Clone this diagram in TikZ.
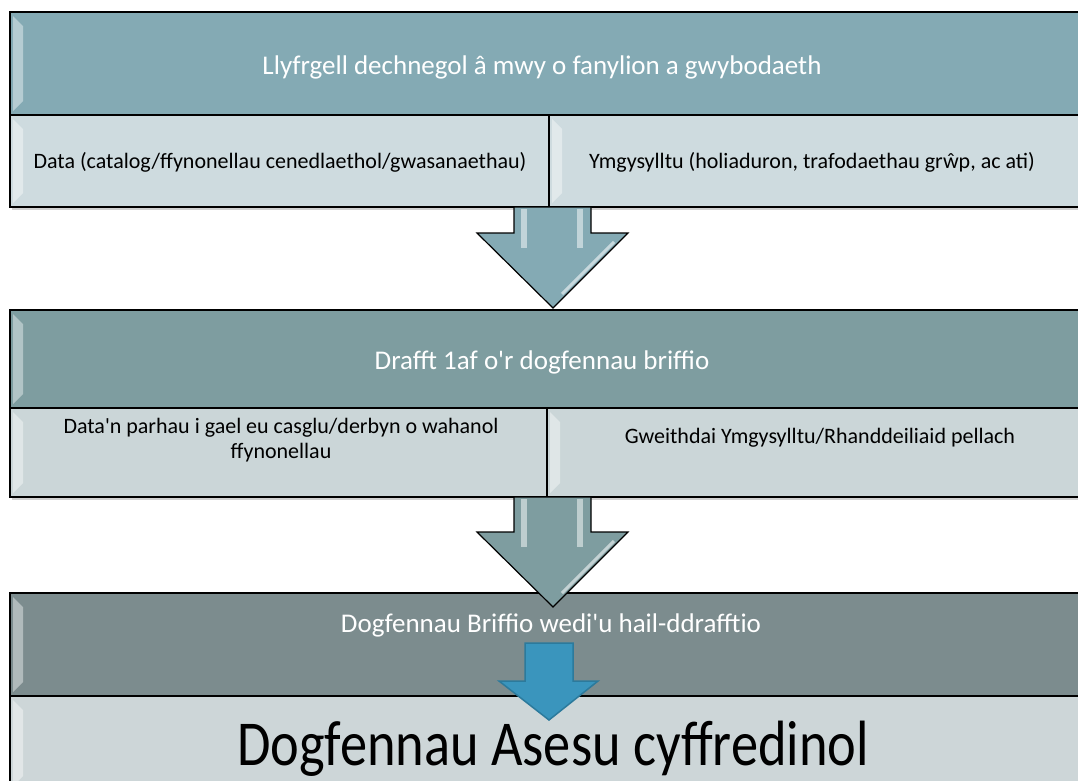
\documentclass[tikz,border=0pt]{standalone}
\usepackage{fontspec}
\setmainfont{Carlito}
\usetikzlibrary{shadows}

\definecolor{hdrA}{HTML}{84AAB4}
\definecolor{hdrB}{HTML}{7E9DA0}
\definecolor{hdrC}{HTML}{7C8C8E}
\definecolor{subA}{HTML}{CEDBDF}
\definecolor{subB}{HTML}{CBD6D8}
\definecolor{subC}{HTML}{CDD6D8}
\definecolor{arrblue}{HTML}{3A95BD}
\definecolor{arrblueline}{HTML}{2C7A9C}

\begin{document}
\begin{tikzpicture}[x=1pt, y=-1pt,
  cell/.style={draw=black, line width=1.2pt, anchor=north west, inner sep=0pt, outer sep=0pt},
  shade/.style={fill=black, opacity=0.18, draw=none},
  bevel/.style={fill=white, opacity=0.4, draw=none},
  gloss/.style={fill=white, opacity=0.5, draw=none},
  flowarrow/.style={draw=black, line width=1.2pt, line join=miter},
  hdrtext/.style={anchor=base, text=white, inner sep=0pt, font=\fontsize{27}{32}\selectfont},
  subtext/.style={anchor=base, text=black, inner sep=0pt, align=center, font=\fontsize{22}{25}\selectfont}]

\useasboundingbox (0,0) rectangle (1078,780);

% first block
\fill[shade] (12,15) rectangle (1090,210);
\node[cell, fill=hdrA, minimum width=1080pt, minimum height=103pt] (llyf) at (10,12) {};
\node[cell, fill=subA, minimum width=539pt, minimum height=92pt] (data1) at (10,115) {};
\node[cell, fill=subA, minimum width=541pt, minimum height=92pt] (ymg1) at (549,115) {};

% second block
\fill[shade] (12,313) rectangle (1090,500);
\node[cell, fill=hdrB, minimum width=1080pt, minimum height=98pt] (drafft) at (10,310) {};
\node[cell, fill=subB, minimum width=537pt, minimum height=89pt] (data2) at (10,408) {};
\node[cell, fill=subB, minimum width=543pt, minimum height=89pt] (gweith) at (547,408) {};

% third block
\fill[shade] (12,596) rectangle (1090,790);
\node[cell, fill=hdrC, minimum width=1080pt, minimum height=103pt] (hail) at (10,593) {};
\node[cell, fill=subC, minimum width=1080pt, minimum height=95pt] (asesu) at (10,696) {};

% bevels on the left of each cell
\foreach \x/\t/\b in {10/12/115, 10/115/207, 549/115/207, 10/310/408, 10/408/497, 547/408/497, 10/593/696, 10/696/790}
  \fill[bevel] (\x+3,\t+4) -- (\x+13,\t+14) -- (\x+13,\b-14) -- (\x+3,\b-4) -- cycle;

% big arrows
\filldraw[flowarrow, fill=hdrA] (514,207) -- (514,233) -- (477,233) -- (553,308) -- (628,233) -- (591,233) -- (591,207) -- cycle;
\fill[gloss] (521,209) rectangle (527,248);
\fill[gloss] (577,209) rectangle (583,248);
\draw[white, opacity=0.55, line width=3pt] (614,242) -- (562,294);

\filldraw[flowarrow, fill=hdrB] (514,497) -- (514,532) -- (477,532) -- (553,607) -- (628,532) -- (591,532) -- (591,497) -- cycle;
\fill[gloss] (521,499) rectangle (527,547);
\fill[gloss] (577,499) rectangle (583,547);
\draw[white, opacity=0.55, line width=3pt] (614,541) -- (562,593);

% small blue arrow
\filldraw[fill=arrblue, draw=arrblueline, line width=1.5pt] (525,643) -- (525,681) -- (499,681) -- (549,720) -- (598,681) -- (573,681) -- (573,643) -- cycle;

% texts
\node[hdrtext] (t-llyf) at (542,74) {Llyfrgell dechnegol â mwy o fanylion a gwybodaeth};
\node[subtext] (t-data1) at (280,168) {Data (catalog/ffynonellau cenedlaethol/gwasanaethau)};
\node[subtext] (t-ymg1) at (812,168) {Ymgysylltu (holiaduron, trafodaethau grŵp, ac ati)};
\node[hdrtext] (t-drafft) at (542,369) {Drafft 1af o\textquotesingle r dogfennau briffio};
\node[subtext, anchor=center] (t-data2) at (281,440) {Data\textquotesingle n parhau i gael eu casglu/derbyn o wahanol\\ffynonellau};
\node[subtext] (t-gweith) at (820,443) {Gweithdai Ymgysylltu/Rhanddeiliaid pellach};
\node[hdrtext] (t-hail) at (551,632) {Dogfennau Briffio wedi\textquotesingle u hail-ddrafftio};
\node[anchor=base, inner sep=0pt, font=\fontsize{64}{68}\selectfont] (t-asesu) at (553,765) {\scalebox{0.85}[1]{Dogfennau Asesu cyffredinol}};
\end{tikzpicture}
\end{document}
